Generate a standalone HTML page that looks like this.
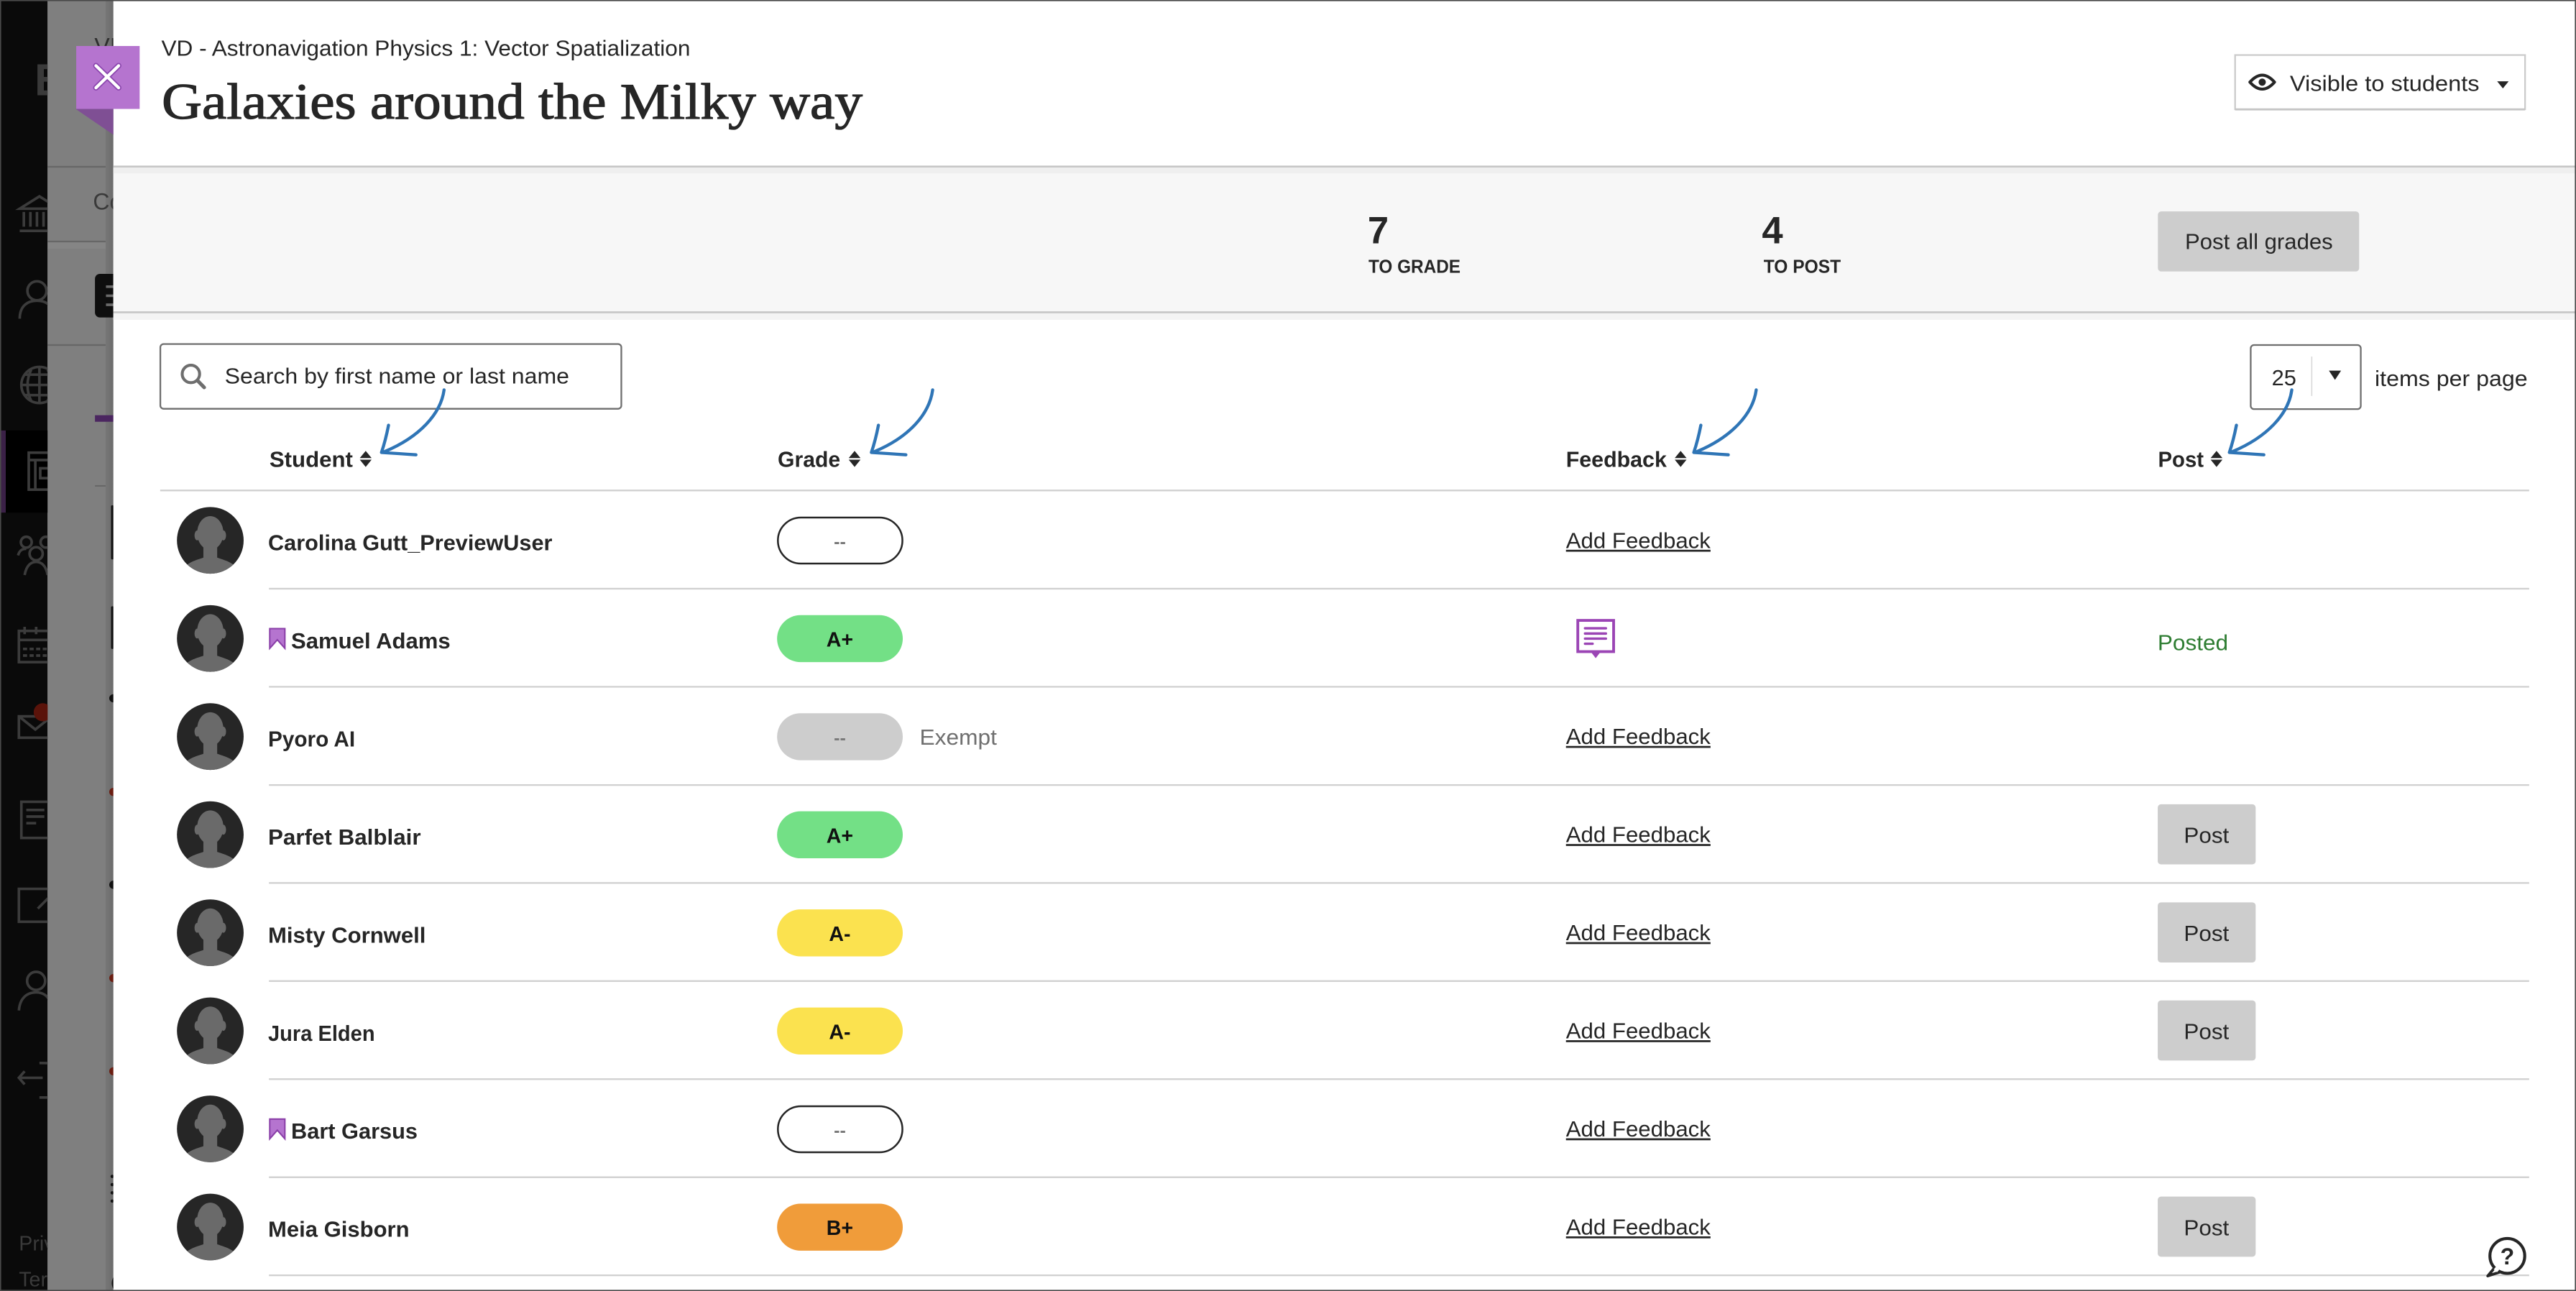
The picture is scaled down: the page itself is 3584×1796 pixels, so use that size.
<!DOCTYPE html>
<html><head><meta charset="utf-8"><style>
html,body{margin:0;padding:0;background:#fff;overflow:hidden;}
svg{display:block;}
text{font-family:"Liberation Sans",Arial,sans-serif;}
.serif{font-family:"Liberation Serif","DejaVu Serif",serif;}
</style></head><body>
<svg width="3584" height="1796" viewBox="0 0 1568 785.75" preserveAspectRatio="none" xmlns="http://www.w3.org/2000/svg">
<defs>
 <clipPath id="avc"><circle cx="0" cy="0" r="20.3"/></clipPath>
 <g id="avatar">
   <circle r="20.3" fill="#262626"/>
   <g clip-path="url(#avc)" fill="#6a6a6a">
     <ellipse cx="0" cy="-4.5" rx="8" ry="10.3"/>
     <ellipse cx="-8" cy="-3" rx="1.6" ry="3"/>
     <ellipse cx="8" cy="-3" rx="1.6" ry="3"/>
     <rect x="-4.2" y="2" width="8.4" height="10"/>
     <path d="M-18,22 C-17,14 -10,12.5 -4.2,10.5 L4.2,10.5 C10,12.5 17,14 18,22 Z"/>
   </g>
 </g>
 <linearGradient id="shade" x1="0" x2="1" y1="0" y2="0">
   <stop offset="0" stop-color="#767676"/><stop offset="1" stop-color="#6c6c6c"/>
 </linearGradient>
</defs>

<rect x="0" y="0" width="1568" height="786" fill="#ffffff"/>

<!-- left dark sidebar -->
<rect x="0" y="0" width="29" height="786" fill="#0a0a0a"/>
<rect x="0" y="262" width="29" height="50" fill="#000"/>
<rect x="0.5" y="262" width="3" height="50" fill="#3b2147"/>
<g fill="none" stroke="#3c3c3c" stroke-width="1.6">
  <path d="M12,127 L24,119.5 L36,127 Z"/>
  <path d="M14.5,129 V138 M18.5,129 V138 M22.5,129 V138 M26.5,129 V138"/>
  <path d="M12,140.5 H36"/>
  <circle cx="22.5" cy="177" r="5.8"/>
  <path d="M12,194 C12,186 17,183 22.5,183 C28,183 33,186 33,194"/>
  <circle cx="24" cy="234.3" r="11"/>
  <path d="M13,234.3 H35 M24,223.3 V245.3 M15,228 H33 M15,240.5 H33 M19,225 C16,231 16,238 19,244 M29,225 C32,231 32,238 29,244"/>
  <rect x="17.5" y="275.5" width="14" height="22.5"/>
  <path d="M17.5,280 H31 M21.5,280 V298 M24.5,285 H31 V291 H24.5 Z"/>
  <circle cx="16" cy="330" r="3.3"/><circle cx="28" cy="330" r="3.3"/>
  <circle cx="22" cy="337" r="4"/>
  <path d="M11,338 C12,334.5 14,334 16,334 M15,350 C16,344 19,342 22,342 C25,342 28,344 29,350"/>
  <rect x="11.5" y="384" width="20" height="19"/>
  <path d="M11.5,389.5 H31.5 M15,381.5 V386 M22,381.5 V386"/>
  <path d="M14,395 H31 M14,399 H31" stroke-dasharray="2.5 1.5"/>
  <rect x="11.5" y="436" width="20" height="13"/>
  <path d="M11.5,436 L21.5,444 L31.5,436"/>
  <rect x="13" y="488" width="17" height="22"/>
  <path d="M16,493 H27 M16,497 H27 M16,501 H22"/>
  <path d="M30,541 H11.5 V561 H31"/>
  <path d="M23,553 L31,545"/>
  <circle cx="22" cy="597" r="5.5"/>
  <path d="M11.5,615 C12,608 16,604 22,604 C26,604 29,606 30,609"/>
  <path d="M24,647 C31,647 31,647 33,648 M24,668 C31,668 31,668 33,667 M11.5,656 H26 M15,652 L11.5,656 L15,660"/>
</g>
<text x="21" y="58" font-size="27" font-weight="bold" fill="#3a3a3a">B</text>
<circle cx="26" cy="433.5" r="5.5" fill="#5a130a"/>
<text x="11.5" y="761" font-size="12.5" fill="#3a3a3a">Priv</text>
<text x="11.5" y="783" font-size="12.5" fill="#3a3a3a">Ter</text>

<!-- gray overlay region -->
<rect x="29" y="0" width="40" height="786" fill="#7f7f7f"/>
<rect x="64.3" y="0" width="4.8" height="786" fill="url(#shade)"/>
<text x="57.5" y="33" font-size="14" fill="#2e2e2e">VI</text>
<rect x="29" y="101" width="35.3" height="1" fill="#676767"/>
<text x="56.6" y="127.5" font-size="14" fill="#3a3a3a">Co</text>
<rect x="29" y="146.5" width="35.3" height="1" fill="#676767"/>
<rect x="29" y="147.5" width="35.3" height="4" fill="#858585"/>
<rect x="29" y="209.5" width="35.3" height="1" fill="#676767"/>
<rect x="57.8" y="166.7" width="14" height="26.5" rx="3" fill="#0e0e0e"/>
<path d="M64.5,174.5 H69 M64.5,180 H69 M64.5,185.5 H69" stroke="#6a6a6a" stroke-width="1.6"/>
<rect x="57.8" y="252.7" width="11.3" height="4" fill="#4b2660"/>
<rect x="57.8" y="295.3" width="6.5" height="0.9" fill="#676767"/>
<g fill="#111">
 <rect x="67.6" y="307.5" width="1.6" height="33" rx="0.8"/>
 <rect x="67.6" y="369" width="1.6" height="26" rx="0.8"/>
 <circle cx="69" cy="425" r="2.5"/>
 <circle cx="69" cy="538.5" r="2.5"/>
 <circle cx="68.3" cy="716" r="1"/><circle cx="68.3" cy="721" r="1"/><circle cx="68.3" cy="726" r="1"/><circle cx="68.3" cy="731" r="1"/>
 <circle cx="75" cy="781" r="7"/>
</g>
<g fill="#6b1e12">
 <circle cx="69" cy="482" r="2.5"/>
 <circle cx="69" cy="595.3" r="2.5"/>
 <circle cx="69" cy="652" r="2.5"/>
</g>

<!-- white panel -->
<rect x="69" y="0" width="1499" height="786" fill="#ffffff"/>

<!-- header -->
<text x="98.2" y="33.8" font-size="13.5" fill="#262626" textLength="322" lengthAdjust="spacingAndGlyphs">VD - Astronavigation Physics 1: Vector Spatialization</text>
<text class="serif" x="98.5" y="72.2" font-size="31" fill="#262626" stroke="#262626" stroke-width="0.55" textLength="426.5" lengthAdjust="spacingAndGlyphs">Galaxies around the Milky way</text>

<!-- visible to students -->
<rect x="1360.5" y="33.5" width="176.5" height="33" fill="#fff" stroke="#cbcbcb" stroke-width="1"/>
<rect x="1360.5" y="66" width="176.5" height="1.2" fill="#c4c4c4"/>
<path d="M1369.5,50 Q1377,41.5 1384.5,50 Q1377,58.5 1369.5,50 Z" fill="none" stroke="#262626" stroke-width="1.8" stroke-linejoin="round"/>
<circle cx="1377" cy="50" r="2.2" fill="#262626"/>
<text x="1393.8" y="55.3" font-size="13.5" fill="#262626" textLength="115.4" lengthAdjust="spacingAndGlyphs">Visible to students</text>
<path d="M1520,49.5 L1527,49.5 L1523.5,53.8 Z" fill="#262626"/>

<!-- stats band -->
<rect x="69" y="100.8" width="1499" height="1.2" fill="#c6c6c6"/>
<rect x="69" y="102" width="1499" height="87.7" fill="#f7f7f7"/>
<rect x="69" y="102" width="1499" height="3.5" fill="#efefef"/>
<rect x="69" y="189.5" width="1499" height="1.2" fill="#c6c6c6"/>
<rect x="69" y="190.7" width="1499" height="4" fill="#f4f4f4"/>

<text x="832.5" y="148" font-size="23" font-weight="bold" fill="#262626">7</text>
<text x="833" y="166" font-size="11.5" font-weight="bold" fill="#262626" textLength="56" lengthAdjust="spacingAndGlyphs">TO GRADE</text>
<text x="1072.5" y="148" font-size="23" font-weight="bold" fill="#262626">4</text>
<text x="1073.5" y="166" font-size="11.5" font-weight="bold" fill="#262626" textLength="47" lengthAdjust="spacingAndGlyphs">TO POST</text>

<rect x="1313.5" y="128.7" width="122.5" height="36.5" rx="2" fill="#cdcdcd"/>
<text x="1330" y="151.5" font-size="13.5" fill="#262626" textLength="90" lengthAdjust="spacingAndGlyphs">Post all grades</text>

<!-- search -->
<rect x="97.6" y="209.4" width="280.6" height="39.4" rx="2" fill="#fff" stroke="#6e6e6e" stroke-width="1"/>
<circle cx="116.2" cy="227.6" r="5.3" fill="none" stroke="#6e6e6e" stroke-width="1.8"/>
<path d="M120.2,231.6 L124.3,235.8" stroke="#6e6e6e" stroke-width="2.2" stroke-linecap="round"/>
<text x="136.8" y="233.4" font-size="13.5" fill="#262626" textLength="209.7" lengthAdjust="spacingAndGlyphs">Search by first name or last name</text>

<!-- items per page -->
<rect x="1370" y="210" width="67" height="39" rx="2" fill="#fff" stroke="#6e6e6e" stroke-width="1"/>
<rect x="1406.8" y="217" width="0.7" height="24" fill="#d8d8d8"/>
<text x="1382.8" y="234.4" font-size="13.5" fill="#262626" textLength="15" lengthAdjust="spacingAndGlyphs">25</text>
<path d="M1417.6,225.6 L1425,225.6 L1421.3,231.2 Z" fill="#262626"/>
<text x="1445.5" y="235" font-size="13.5" fill="#262626" textLength="93" lengthAdjust="spacingAndGlyphs">items per page</text>

<!-- column headers -->
<g font-size="13.5" font-weight="bold" fill="#262626">
 <text x="164" y="284.2" textLength="50.8" lengthAdjust="spacingAndGlyphs">Student</text>
 <text x="473.4" y="284.2" textLength="38.1" lengthAdjust="spacingAndGlyphs">Grade</text>
 <text x="953.2" y="284.2" textLength="61.3" lengthAdjust="spacingAndGlyphs">Feedback</text>
 <text x="1313.6" y="284.2" textLength="27.8" lengthAdjust="spacingAndGlyphs">Post</text>
</g>
<g fill="#262626">
 <path d="M219,278.8 L222.6,274.4 L226.2,278.8 Z M219,279.8 L226.2,279.8 L222.6,284.2 Z"/>
 <path d="M516.6,278.8 L520.2,274.4 L523.8,278.8 Z M516.6,279.8 L523.8,279.8 L520.2,284.2 Z"/>
 <path d="M1019.4,278.8 L1023,274.4 L1026.6,278.8 Z M1019.4,279.8 L1026.6,279.8 L1023,284.2 Z"/>
 <path d="M1345.6,278.8 L1349.2,274.4 L1352.8,278.8 Z M1345.6,279.8 L1352.8,279.8 L1349.2,284.2 Z"/>
</g>

<!-- blue arrows -->
<g fill="none" stroke="#2f75b6" stroke-width="1.9" stroke-linecap="round" stroke-linejoin="round">
 <path d="M270.3,237.3 C268.3,252 255.2,266 234.2,274.8 M236.5,258.8 Q234.7,268 232.2,275.4 Q242.2,276 253.2,276.8"/>
 <path d="M567.7,237.3 C565.7,252 553.4,266 532.4,274.8 M534.7,258.8 Q532.9,268 530.4,275.4 Q540.4,276 551.4,276.8"/>
 <path d="M1069,237.3 C1067,252 1054,266 1033,274.8 M1035.3,258.8 Q1033.5,268 1031,275.4 Q1041,276 1052,276.8"/>
 <path d="M1395,237.3 C1393,252 1380,266 1359,274.8 M1361.3,258.8 Q1359.5,268 1357,275.4 Q1367,276 1378,276.8"/>
</g>

<!-- separators -->
<rect x="97.5" y="298" width="1442" height="1" fill="#cfcfcf"/>
<g fill="#d0d0d0">
 <rect x="163.7" y="357.8" width="1375.8" height="1"/>
 <rect x="163.7" y="417.5" width="1375.8" height="1"/>
 <rect x="163.7" y="477.3" width="1375.8" height="1"/>
 <rect x="163.7" y="536.9" width="1375.8" height="1"/>
 <rect x="163.7" y="596.6" width="1375.8" height="1"/>
 <rect x="163.7" y="656.3" width="1375.8" height="1"/>
 <rect x="163.7" y="716" width="1375.8" height="1"/>
 <rect x="163.7" y="775.7" width="1375.8" height="1"/>
</g>

<!-- avatars -->
<use href="#avatar" transform="translate(128,328.9)"/>
<use href="#avatar" transform="translate(128,388.6)"/>
<use href="#avatar" transform="translate(128,448.3)"/>
<use href="#avatar" transform="translate(128,508)"/>
<use href="#avatar" transform="translate(128,567.7)"/>
<use href="#avatar" transform="translate(128,627.4)"/>
<use href="#avatar" transform="translate(128,687.1)"/>
<use href="#avatar" transform="translate(128,746.8)"/>

<!-- bookmarks -->
<path d="M164.2,382.6 H173.4 V394.6 L168.8,389.4 L164.2,394.6 Z" fill="#b574cf" stroke="#8a3fa8" stroke-width="0.9"/>
<path d="M164.2,681.1 H173.4 V693.1 L168.8,687.9 L164.2,693.1 Z" fill="#b574cf" stroke="#8a3fa8" stroke-width="0.9"/>

<!-- names -->
<g font-size="13.5" font-weight="bold" fill="#262626">
 <text x="163.2" y="334.8" textLength="173" lengthAdjust="spacingAndGlyphs">Carolina Gutt_PreviewUser</text>
 <text x="177.2" y="394.6" textLength="97" lengthAdjust="spacingAndGlyphs">Samuel Adams</text>
 <text x="163.2" y="454.3" textLength="53" lengthAdjust="spacingAndGlyphs">Pyoro AI</text>
 <text x="163.2" y="514" textLength="93" lengthAdjust="spacingAndGlyphs">Parfet Balblair</text>
 <text x="163.2" y="573.7" textLength="96" lengthAdjust="spacingAndGlyphs">Misty Cornwell</text>
 <text x="163.2" y="633.4" textLength="65" lengthAdjust="spacingAndGlyphs">Jura Elden</text>
 <text x="177.2" y="693.1" textLength="77" lengthAdjust="spacingAndGlyphs">Bart Garsus</text>
 <text x="163.2" y="752.8" textLength="86" lengthAdjust="spacingAndGlyphs">Meia Gisborn</text>
</g>

<!-- grade pills -->
<rect x="473.5" y="315" width="75.8" height="28" rx="14" fill="#fff" stroke="#262626" stroke-width="1.1"/>
<rect x="473" y="374.4" width="76.5" height="28.6" rx="14.3" fill="#73e086"/>
<rect x="473" y="434.1" width="76.5" height="28.6" rx="14.3" fill="#cdcdcd"/>
<rect x="473" y="493.8" width="76.5" height="28.6" rx="14.3" fill="#73e086"/>
<rect x="473" y="553.5" width="76.5" height="28.6" rx="14.3" fill="#fbe24f"/>
<rect x="473" y="613.2" width="76.5" height="28.6" rx="14.3" fill="#fbe24f"/>
<rect x="473.5" y="673.3" width="75.8" height="28" rx="14" fill="#fff" stroke="#262626" stroke-width="1.1"/>
<rect x="473" y="732.6" width="76.5" height="28.6" rx="14.3" fill="#f09c3a"/>

<g font-size="11" font-weight="bold" fill="#7a7a7a" text-anchor="middle">
 <text x="511.2" y="333.4">--</text>
 <text x="511.2" y="452.9">--</text>
 <text x="511.2" y="691.7">--</text>
</g>
<g font-size="12.5" font-weight="bold" fill="#111" text-anchor="middle">
 <text x="511.2" y="393.6">A+</text>
 <text x="511.2" y="512.9">A+</text>
 <text x="511.2" y="572.6">A-</text>
 <text x="511.2" y="632.3">A-</text>
 <text x="511.2" y="751.7">B+</text>
</g>
<text x="559.8" y="453.3" font-size="13.5" fill="#6f6f6f" textLength="47" lengthAdjust="spacingAndGlyphs">Exempt</text>

<!-- feedback -->
<g font-size="13.5" fill="#262626">
 <text x="953.2" y="333.5" textLength="88" lengthAdjust="spacingAndGlyphs">Add Feedback</text>
 <text x="953.2" y="452.9" textLength="88" lengthAdjust="spacingAndGlyphs">Add Feedback</text>
 <text x="953.2" y="512.6" textLength="88" lengthAdjust="spacingAndGlyphs">Add Feedback</text>
 <text x="953.2" y="572.3" textLength="88" lengthAdjust="spacingAndGlyphs">Add Feedback</text>
 <text x="953.2" y="632" textLength="88" lengthAdjust="spacingAndGlyphs">Add Feedback</text>
 <text x="953.2" y="691.7" textLength="88" lengthAdjust="spacingAndGlyphs">Add Feedback</text>
 <text x="953.2" y="751.4" textLength="88" lengthAdjust="spacingAndGlyphs">Add Feedback</text>
</g>
<g fill="#262626">
 <rect x="953.2" y="334.6" width="88" height="1.2"/>
 <rect x="953.2" y="454" width="88" height="1.2"/>
 <rect x="953.2" y="513.7" width="88" height="1.2"/>
 <rect x="953.2" y="573.4" width="88" height="1.2"/>
 <rect x="953.2" y="633.1" width="88" height="1.2"/>
 <rect x="953.2" y="692.8" width="88" height="1.2"/>
 <rect x="953.2" y="752.5" width="88" height="1.2"/>
</g>
<rect x="960.4" y="377.6" width="21.8" height="19" fill="#fff" stroke="#9b45b5" stroke-width="1.7"/>
<path d="M968,396.3 L974.6,396.3 L971.3,400.6 Z" fill="#9b45b5"/>
<g stroke="#9b45b5" stroke-width="1.5" stroke-linecap="round">
 <path d="M964.8,382.4 H977.5 M964.8,385.6 H977.5 M964.8,388.7 H977.5 M964.8,391.8 H969.4"/>
</g>

<!-- post column -->
<text x="1313.3" y="395.8" font-size="13.5" fill="#2e7d32" textLength="43" lengthAdjust="spacingAndGlyphs">Posted</text>
<g fill="#cdcdcd">
 <rect x="1313.4" y="489.5" width="59.6" height="36.6" rx="2"/>
 <rect x="1313.4" y="549.2" width="59.6" height="36.6" rx="2"/>
 <rect x="1313.4" y="608.9" width="59.6" height="36.6" rx="2"/>
 <rect x="1313.4" y="728.3" width="59.6" height="36.6" rx="2"/>
</g>
<g font-size="13.5" fill="#262626">
 <text x="1329.3" y="513" textLength="27.5" lengthAdjust="spacingAndGlyphs">Post</text>
 <text x="1329.3" y="572.7" textLength="27.5" lengthAdjust="spacingAndGlyphs">Post</text>
 <text x="1329.3" y="632.4" textLength="27.5" lengthAdjust="spacingAndGlyphs">Post</text>
 <text x="1329.3" y="751.8" textLength="27.5" lengthAdjust="spacingAndGlyphs">Post</text>
</g>

<!-- help icon -->
<path d="M1518.5,771.5 L1514.3,776.6 L1521.5,774.3" fill="#fff" stroke="#262626" stroke-width="1.7" stroke-linejoin="round"/>
<circle cx="1526.2" cy="764.4" r="10.6" fill="#fff" stroke="#262626" stroke-width="1.8"/>
<path d="M1518.6,771.8 L1520.6,773.6" stroke="#fff" stroke-width="2"/>
<text x="1526.2" y="769.6" font-size="14" font-weight="bold" fill="#262626" text-anchor="middle">?</text>

<!-- close button -->
<path d="M46,66.3 L69,66.3 L69,82 Z" fill="#7f4f94"/>
<rect x="46.4" y="28" width="38.6" height="38.3" fill="#b574cf"/>
<g stroke-linecap="round">
 <path d="M58.4,40 L72.2,53.4 M72.2,40 L58.4,53.4" stroke="#8a44ad" stroke-width="3.4"/>
 <path d="M58.4,40 L72.2,53.4 M72.2,40 L58.4,53.4" stroke="#ffffff" stroke-width="1.9"/>
</g>

<!-- outer border -->
<rect x="0.3" y="0.3" width="1567.4" height="785.15" fill="none" stroke="#4a4a4a" stroke-width="0.8"/>
</svg>
</body></html>
